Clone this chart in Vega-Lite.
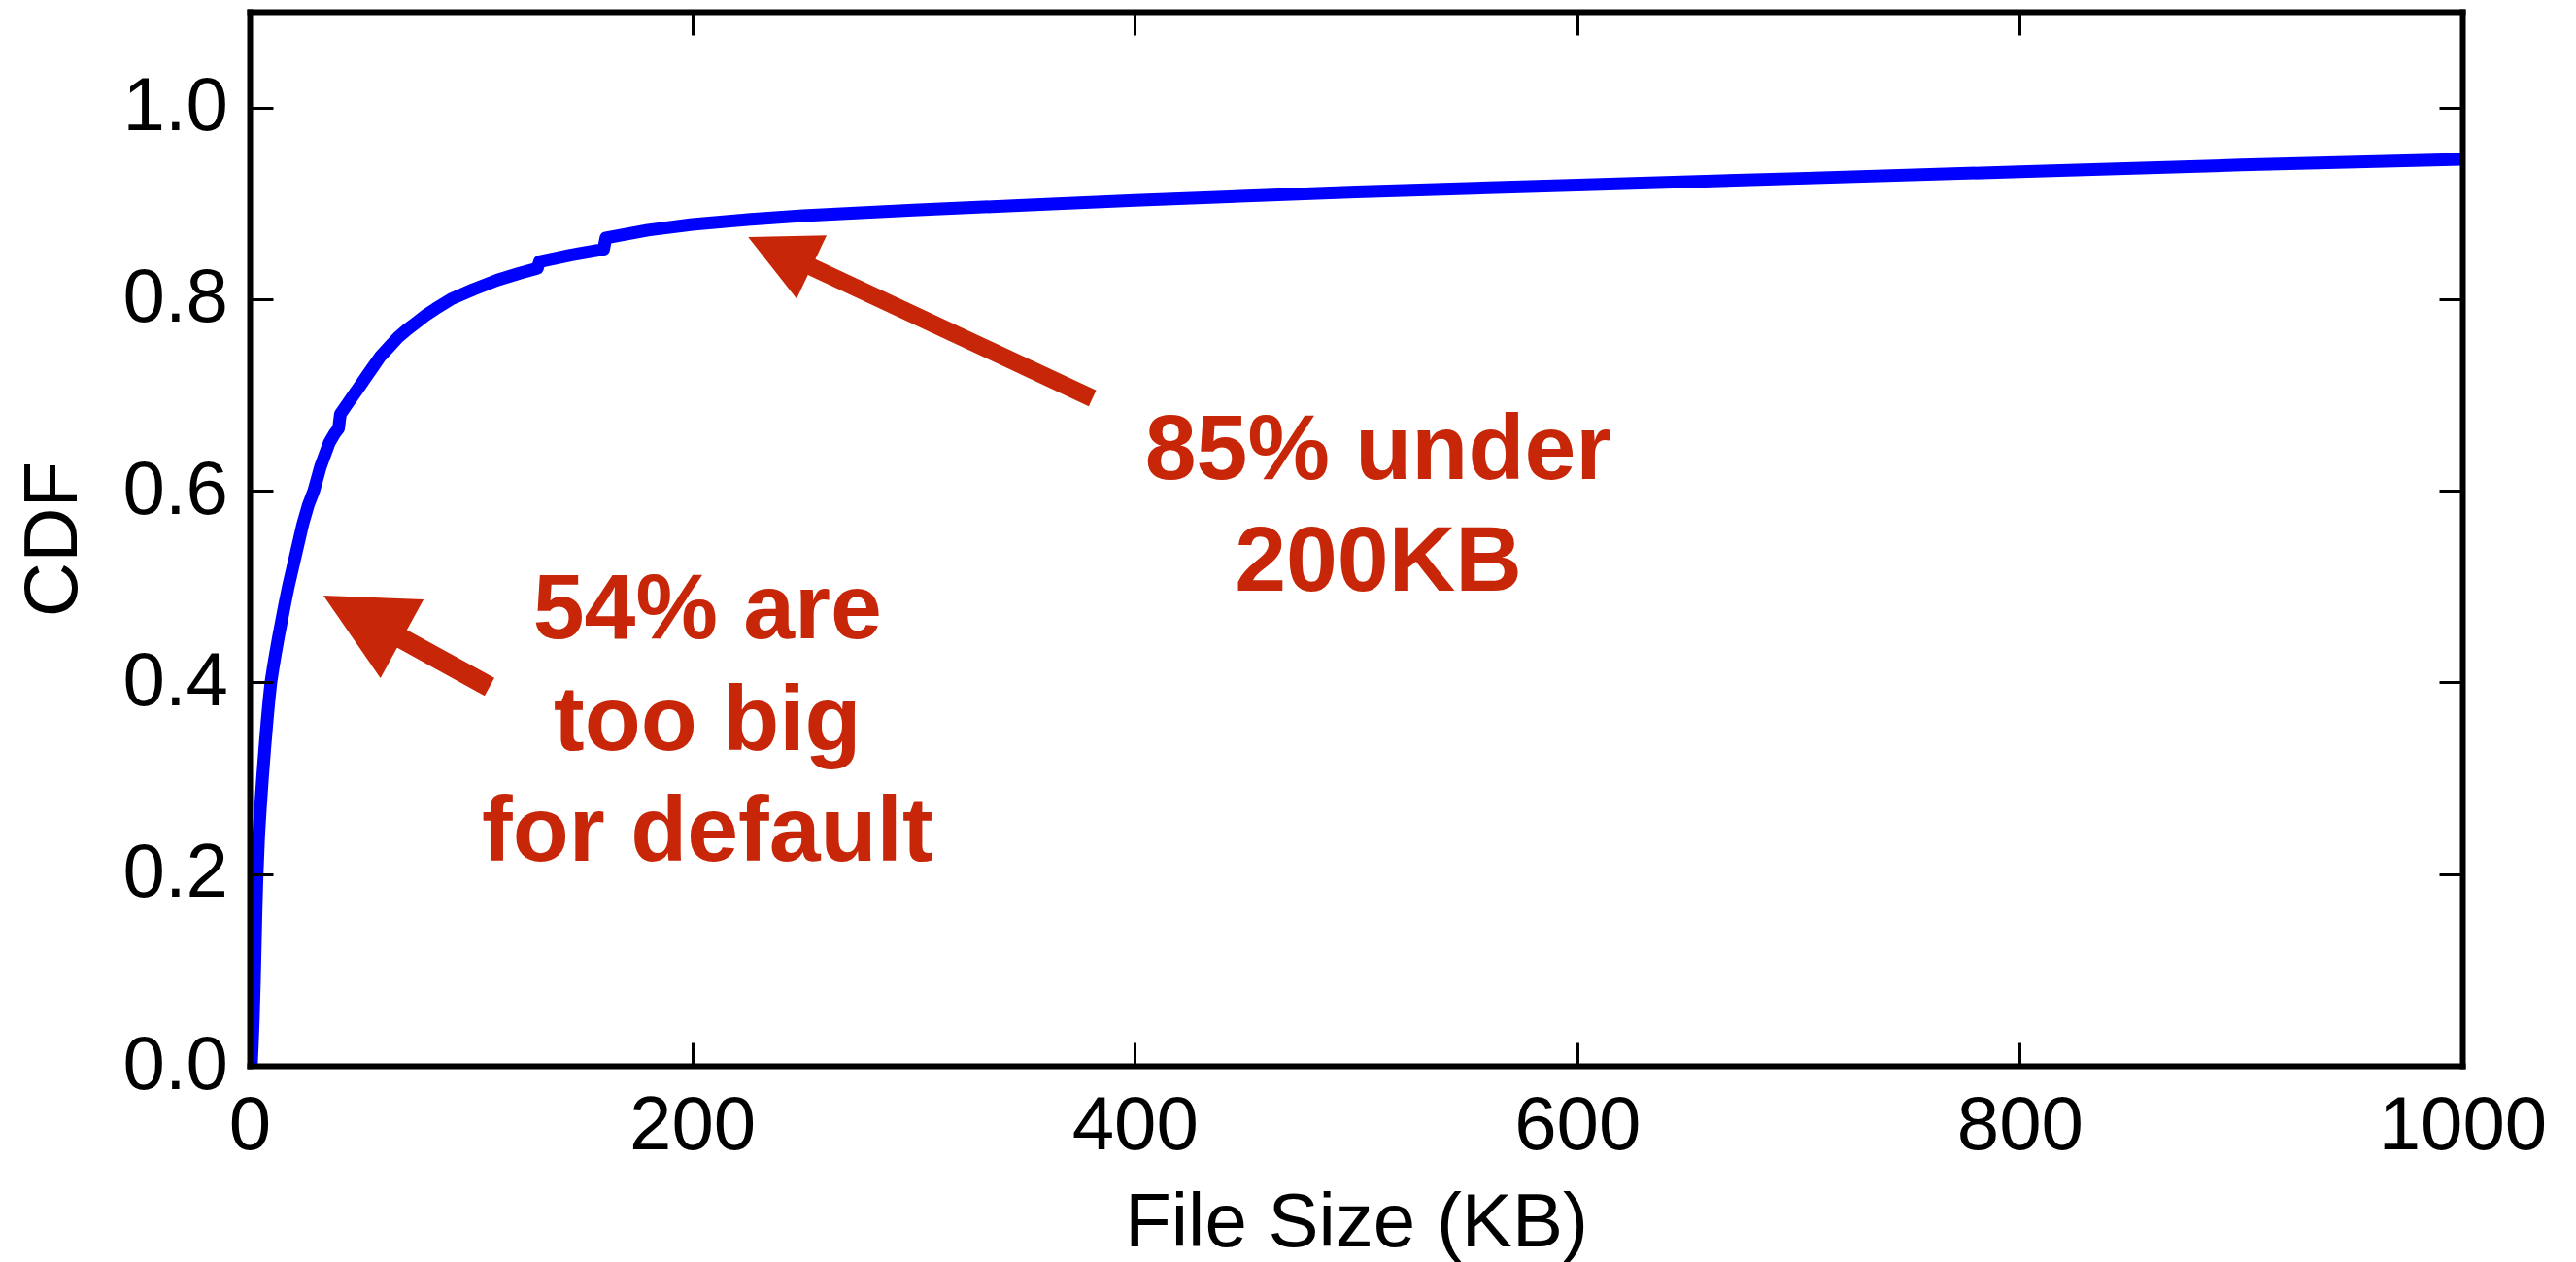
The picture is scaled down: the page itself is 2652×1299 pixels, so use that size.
{
  "$schema": "https://vega.github.io/schema/vega-lite/v6.json",
  "width": 2278,
  "height": 1085,
  "autosize": {"type": "none"},
  "padding": {"left": 257, "top": 12, "right": 117, "bottom": 202},
  "background": "white",
  "config": {"view": {"stroke": null}, "font": "Liberation Sans"},
  "datasets": {
    "cdf": [
      {"size_kb": 0.8, "cdf": 0.0},
      {"size_kb": 1.2, "cdf": 0.02},
      {"size_kb": 1.7, "cdf": 0.05},
      {"size_kb": 2.2, "cdf": 0.09},
      {"size_kb": 2.6, "cdf": 0.13},
      {"size_kb": 3.0, "cdf": 0.17},
      {"size_kb": 3.4, "cdf": 0.2},
      {"size_kb": 4.1, "cdf": 0.24},
      {"size_kb": 4.9, "cdf": 0.27},
      {"size_kb": 5.8, "cdf": 0.3},
      {"size_kb": 6.8, "cdf": 0.33},
      {"size_kb": 7.9, "cdf": 0.36},
      {"size_kb": 8.7, "cdf": 0.38},
      {"size_kb": 9.6, "cdf": 0.4},
      {"size_kb": 10.6, "cdf": 0.415},
      {"size_kb": 11.7, "cdf": 0.43},
      {"size_kb": 13, "cdf": 0.447},
      {"size_kb": 14.5, "cdf": 0.465},
      {"size_kb": 16, "cdf": 0.483},
      {"size_kb": 17.5, "cdf": 0.5},
      {"size_kb": 20.5, "cdf": 0.53},
      {"size_kb": 24, "cdf": 0.565},
      {"size_kb": 26.5, "cdf": 0.585},
      {"size_kb": 29, "cdf": 0.6},
      {"size_kb": 32, "cdf": 0.625},
      {"size_kb": 36, "cdf": 0.65},
      {"size_kb": 38.5, "cdf": 0.66},
      {"size_kb": 40.2, "cdf": 0.665},
      {"size_kb": 41, "cdf": 0.68},
      {"size_kb": 44, "cdf": 0.69},
      {"size_kb": 47, "cdf": 0.7},
      {"size_kb": 50, "cdf": 0.71},
      {"size_kb": 53, "cdf": 0.72},
      {"size_kb": 56, "cdf": 0.73},
      {"size_kb": 59, "cdf": 0.74},
      {"size_kb": 63, "cdf": 0.75},
      {"size_kb": 67, "cdf": 0.76},
      {"size_kb": 71, "cdf": 0.768},
      {"size_kb": 75, "cdf": 0.775},
      {"size_kb": 79.5, "cdf": 0.783},
      {"size_kb": 84, "cdf": 0.79},
      {"size_kb": 91, "cdf": 0.8},
      {"size_kb": 101, "cdf": 0.81},
      {"size_kb": 112, "cdf": 0.82},
      {"size_kb": 122, "cdf": 0.827},
      {"size_kb": 130, "cdf": 0.832},
      {"size_kb": 131, "cdf": 0.839},
      {"size_kb": 145, "cdf": 0.846},
      {"size_kb": 160, "cdf": 0.852},
      {"size_kb": 161, "cdf": 0.864},
      {"size_kb": 180, "cdf": 0.872},
      {"size_kb": 200, "cdf": 0.878},
      {"size_kb": 225, "cdf": 0.883},
      {"size_kb": 250, "cdf": 0.887},
      {"size_kb": 300, "cdf": 0.893},
      {"size_kb": 350, "cdf": 0.898},
      {"size_kb": 400, "cdf": 0.903},
      {"size_kb": 500, "cdf": 0.912},
      {"size_kb": 600, "cdf": 0.919},
      {"size_kb": 700, "cdf": 0.926},
      {"size_kb": 800, "cdf": 0.933},
      {"size_kb": 900, "cdf": 0.94},
      {"size_kb": 1000, "cdf": 0.946}
    ],
    "arrows": [
      {"id": "default", "tip_kb": 33.36, "tip_cdf": 0.4907, "base_kb": 64.97, "base_cdf": 0.4505, "tail_kb": 108.4, "tail_cdf": 0.3954},
      {"id": "under200", "tip_kb": 225.3, "tip_cdf": 0.8648, "base_kb": 250.7, "base_cdf": 0.8371, "tail_kb": 380.9, "tail_cdf": 0.6965}
    ],
    "notes": [
      {"note": "54% are\ntoo big\nfor default", "size_kb": 206.9, "cdf": 0.4458},
      {"note": "85% under\n200KB", "size_kb": 510.1, "cdf": 0.612}
    ]
  },
  "layer": [
    {
      "data": {"name": "cdf"},
      "mark": {"type": "line", "color": "#0000ff", "strokeWidth": 13, "strokeJoin": "round", "strokeCap": "butt", "clip": true},
      "encoding": {
        "x": {
          "field": "size_kb", "type": "quantitative",
          "scale": {"domain": [0, 1000], "nice": false, "zero": false},
          "axis": {
            "orient": "bottom", "values": [0, 200, 400, 600, 800, 1000], "format": "d", "grid": false, "zindex": 1,
            "domainColor": "black", "domainWidth": 6, "domainCap": "square",
            "tickColor": "black", "tickWidth": 3, "tickSize": -24,
            "labelFont": "Liberation Sans", "labelFontSize": 78, "labelColor": "black", "labelLimit": 0,
            "labelBaseline": "alphabetic", "labelPadding": 109, "labelFlush": false, "labelOverlap": false,
            "title": "File Size (KB)", "titleFont": "Liberation Sans", "titleFontSize": 78, "titleFontWeight": "normal",
            "titleColor": "black", "titleBaseline": "alphabetic", "titleAlign": "center", "titleX": 1139, "titleY": 185
          }
        },
        "y": {
          "field": "cdf", "type": "quantitative",
          "scale": {"domain": [0, 1.1], "nice": false, "zero": false},
          "axis": {
            "orient": "left", "values": [0, 0.2, 0.4, 0.6, 0.8, 1.0], "format": ".1f", "grid": false, "zindex": 1,
            "domainColor": "black", "domainWidth": 6, "domainCap": "square",
            "tickColor": "black", "tickWidth": 3, "tickSize": -24,
            "labelFont": "Liberation Sans", "labelFontSize": 78, "labelColor": "black", "labelLimit": 0,
            "labelPadding": 46.5, "labelFlush": false, "labelOverlap": false,
            "title": "CDF", "titleFont": "Liberation Sans", "titleFontSize": 78, "titleFontWeight": "normal",
            "titleColor": "black", "titleBaseline": "alphabetic", "titleAlign": "center", "titleAngle": -90,
            "titleX": -179, "titleY": 542.5
          }
        }
      }
    },
    {
      "data": {"name": "arrows"},
      "transform": [{"filter": "datum.id === 'default'"}],
      "mark": {"type": "rule", "color": "#c72608", "strokeWidth": 21, "strokeCap": "butt"},
      "encoding": {
        "x": {"field": "base_kb", "type": "quantitative", "scale": {"domain": [0, 1000], "nice": false, "zero": false}, "axis": null},
        "y": {"field": "base_cdf", "type": "quantitative", "scale": {"domain": [0, 1.1], "nice": false, "zero": false}, "axis": null},
        "x2": {"field": "tail_kb"},
        "y2": {"field": "tail_cdf"}
      }
    },
    {
      "data": {"name": "arrows"},
      "transform": [{"filter": "datum.id === 'under200'"}],
      "mark": {"type": "rule", "color": "#c72608", "strokeWidth": 18, "strokeCap": "butt"},
      "encoding": {
        "x": {"field": "base_kb", "type": "quantitative", "scale": {"domain": [0, 1000], "nice": false, "zero": false}, "axis": null},
        "y": {"field": "base_cdf", "type": "quantitative", "scale": {"domain": [0, 1.1], "nice": false, "zero": false}, "axis": null},
        "x2": {"field": "tail_kb"},
        "y2": {"field": "tail_cdf"}
      }
    },
    {
      "data": {"name": "arrows"},
      "transform": [{"filter": "datum.id === 'default'"}],
      "mark": {"type": "point", "shape": "M0,0L-0.5,1L0.5,1Z", "filled": true, "color": "#c72608", "opacity": 1, "strokeWidth": 0, "size": 34077, "angle": -61.2},
      "encoding": {
        "x": {"field": "tip_kb", "type": "quantitative", "scale": {"domain": [0, 1000], "nice": false, "zero": false}, "axis": null},
        "y": {"field": "tip_cdf", "type": "quantitative", "scale": {"domain": [0, 1.1], "nice": false, "zero": false}, "axis": null}
      }
    },
    {
      "data": {"name": "arrows"},
      "transform": [{"filter": "datum.id === 'under200'"}],
      "mark": {"type": "point", "shape": "M0,0L-0.5,1L0.5,1Z", "filled": true, "color": "#c72608", "opacity": 1, "strokeWidth": 0, "size": 20909, "angle": -64.7},
      "encoding": {
        "x": {"field": "tip_kb", "type": "quantitative", "scale": {"domain": [0, 1000], "nice": false, "zero": false}, "axis": null},
        "y": {"field": "tip_cdf", "type": "quantitative", "scale": {"domain": [0, 1.1], "nice": false, "zero": false}, "axis": null}
      }
    },
    {
      "data": {"name": "notes"},
      "mark": {"type": "text", "align": "center", "baseline": "alphabetic", "lineBreak": "\n", "lineHeight": 114.5,
               "font": "Liberation Sans", "fontSize": 95, "fontWeight": "bold", "color": "#c72608"},
      "encoding": {
        "x": {
          "field": "size_kb", "type": "quantitative",
          "scale": {"domain": [0, 1000], "nice": false, "zero": false},
          "axis": {
            "orient": "top", "values": [0, 200, 400, 600, 800, 1000], "grid": false, "zindex": 1, "labels": false, "title": null,
            "domainColor": "black", "domainWidth": 6, "domainCap": "square",
            "tickColor": "black", "tickWidth": 3, "tickSize": -24
          }
        },
        "y": {
          "field": "cdf", "type": "quantitative",
          "scale": {"domain": [0, 1.1], "nice": false, "zero": false},
          "axis": {
            "orient": "right", "values": [0, 0.2, 0.4, 0.6, 0.8, 1.0], "grid": false, "zindex": 1, "labels": false, "title": null,
            "domainColor": "black", "domainWidth": 6, "domainCap": "square",
            "tickColor": "black", "tickWidth": 3, "tickSize": -24
          }
        },
        "text": {"field": "note"}
      }
    }
  ],
  "resolve": {"axis": {"x": "independent", "y": "independent"}}
}
